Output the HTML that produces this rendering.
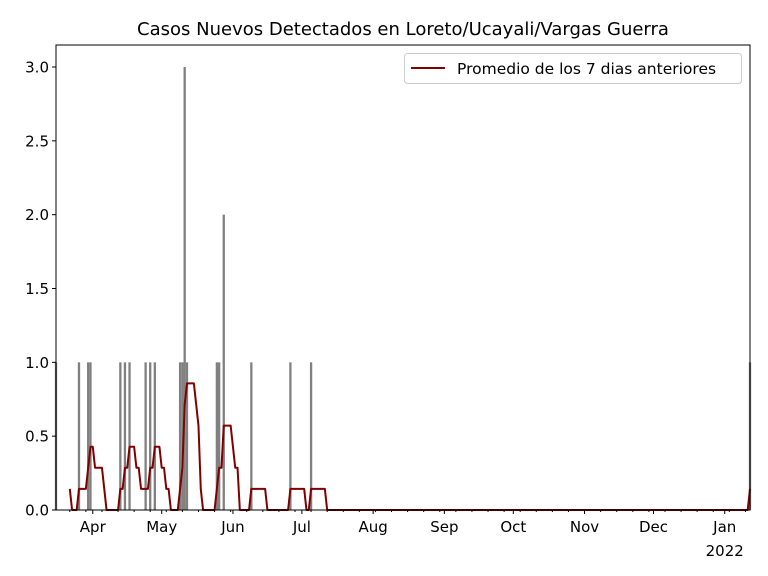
<!DOCTYPE html>
<html><head><meta charset="utf-8"><style>
body{margin:0;background:#fff;}
svg{display:block;font-family:"DejaVu Sans","Liberation Sans",sans-serif;}
</style></head><body>
<svg id="chart" width="768" height="576" viewBox="0 0 768 576" xmlns="http://www.w3.org/2000/svg">
<text x="403" y="35" font-size="18" text-anchor="middle" fill="#000">Casos Nuevos Detectados en Loreto/Ucayali/Vargas Guerra</text>
<g id="bars"></g>
<g id="line"></g>
<g id="axes"></g>
<rect x="56" y="45" width="694" height="465" fill="none" stroke="#000" stroke-width="1"/>
<g>
<rect x="404.5" y="53.5" width="337" height="30" rx="3" fill="#fff" fill-opacity="0.8" stroke="#ccc"/>
<line x1="411" y1="68" x2="445" y2="68" stroke="#800000" stroke-width="2"/>
<text x="457" y="74" font-size="15.5" fill="#000">Promedio de los 7 dias anteriores</text>
</g>
</svg>
<script>
// day index 0 = 2021-03-16
const startDate = [2021, 2, 16];
const totalDays = 302;
const caseDays =   [0, 10, 14, 15, 28, 30, 32, 39, 41, 43, 54, 55, 56, 57, 70, 71, 73, 85, 102, 111, 302];
const caseCounts = [1, 1,  1,  1,  1,  1,  1,  1,  1,  1,  1,  1,  3,  1,  1,  1,  2,  1,  1,   1,   1];
const yTicks = [0, 0.5, 1.0, 1.5, 2.0, 2.5, 3.0];
const monthLabels = ["Apr","May","Jun","Jul","Aug","Sep","Oct","Nov","Dec","Jan"];

const L=56,R=750,T=45,B=510;
const dw=(R-L)/totalDays;
const xs = d => L + d*dw;
const ys = v => B - v*(B-67)/3.0;
const NS="http://www.w3.org/2000/svg";
function mk(tag, attrs, parent){const e=document.createElementNS(NS,tag);for(const k in attrs)e.setAttribute(k,attrs[k]);parent.appendChild(e);return e;}
const base = new Date(startDate[0], startDate[1], startDate[2]);
const dayOf = dt => Math.round((dt - base)/86400000);

const counts = new Array(totalDays+1).fill(0);
caseDays.forEach((d,i)=>counts[d]=caseCounts[i]);

const gb=document.getElementById('bars');
caseDays.forEach((d,i)=>{
  const v=caseCounts[i];
  const r=mk('rect',{x:xs(d)-dw/2,y:ys(v),width:dw,height:B-ys(v),fill:'#808080'},gb);
  
  
});

const gl=document.getElementById('line');
let pts=[];
for(let d=6; d<=totalDays; d++){
  let s=0; for(let k=d-6;k<=d;k++) s+=counts[k];
  pts.push(xs(d).toFixed(2)+','+ys(s/7).toFixed(2));
}
const pl=mk('polyline',{points:pts.join(' '),fill:'none',stroke:'#800000','stroke-width':2,'stroke-linejoin':'round'},gl);



const ga=document.getElementById('axes');
yTicks.forEach(v=>{
  const y=ys(v);
  const t=mk('line',{x1:L-4,y1:y,x2:L,y2:y,stroke:'#000'},ga);
  
  
  const tx=mk('text',{x:L-7,y:y+5.5,'font-size':15,'text-anchor':'end'},ga);
  
  
  tx.textContent=v.toFixed(1);
});
for(let d=6; d<=totalDays; d+=7){
  const t=mk('line',{x1:xs(d),y1:B,x2:xs(d),y2:B+2,stroke:'#000'},ga);
  
  
}
monthLabels.forEach((m,i)=>{
  const yr = i<9 ? 2021 : 2022;
  const mo = (3+i)%12;
  const d = dayOf(new Date(yr,mo,1));
  const x=xs(d);
  const t=mk('line',{x1:x,y1:B,x2:x,y2:B+4,stroke:'#000'},ga);
  
  
  const tx=mk('text',{x:x,y:B+22,'font-size':15,'text-anchor':'middle'},ga);
  
  
  tx.textContent=m;
  if(m==="Jan"){
    const ty=mk('text',{x:x,y:B+46,'font-size':15,'text-anchor':'middle'},ga);
    
    
    ty.textContent="2022";
  }
});
</script>
</body></html>
